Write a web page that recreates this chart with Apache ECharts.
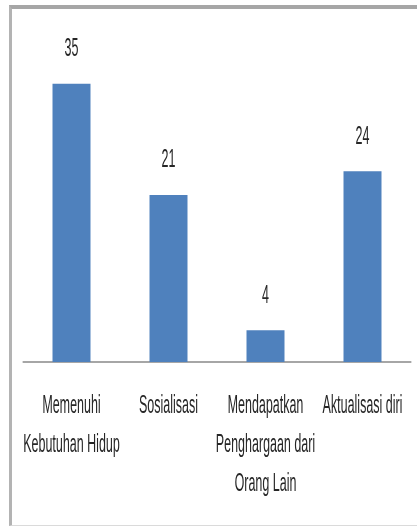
<!DOCTYPE html>
<html>
<head>
<meta charset="utf-8">
<script src="https://cdn.jsdelivr.net/npm/echarts@6/dist/echarts.min.js"></script>
<style>
    html, body { margin: 0; padding: 0; background: #fff; overflow: hidden; }
    .frame {
        position: absolute; left: 9px; top: 5px; width: 500px; height: 516px;
        border-top: 4px solid #a6a6a6; border-left: 3px solid #b3b3b3; border-bottom: 1px solid #dadada;
    }
    /* the source picture is squeezed sideways, so the chart is drawn twice as wide and scaled back */
    #chart {
        position: absolute; left: 0; top: 0; width: 834px; height: 527px;
        transform: scaleX(0.5); transform-origin: 0 0;
    }
</style>
</head>
<body>
<div class="frame"></div>
<div id="chart"></div>
<script>
    var categories = ['Memenuhi\nKebutuhan Hidup', 'Sosialisasi', 'Mendapatkan\nPenghargaan dari\nOrang Lain', 'Aktualisasi diri']
    var values = [35, 21, 4, 24]

    var chart = echarts.init(document.getElementById('chart'))
    chart.setOption({
        animation: false,
        grid: {
            left: 46,
            right: 12,
            top: 44,
            bottom: 165
        },
        xAxis: {
            type: 'category',
            data: categories,
            axisLine: { lineStyle: { color: '#a6a6a6', width: 2 } },
            axisTick: { show: false },
            axisLabel: {
                interval: 0,
                margin: 25,
                color: '#262626',
                fontFamily: 'Liberation Sans',
                fontSize: 25,
                lineHeight: 39
            }
        },
        yAxis: {
            type: 'value',
            min: 0,
            max: 40,
            show: false
        },
        series: [
            {
                type: 'bar',
                data: values,
                barWidth: 76,
                itemStyle: { color: '#4f81bd' },
                label: {
                    show: true,
                    position: 'top',
                    distance: 22,
                    color: '#262626',
                    fontFamily: 'Liberation Sans',
                    fontSize: 25
                }
            }
        ]
    })
</script>
</body>
</html>
